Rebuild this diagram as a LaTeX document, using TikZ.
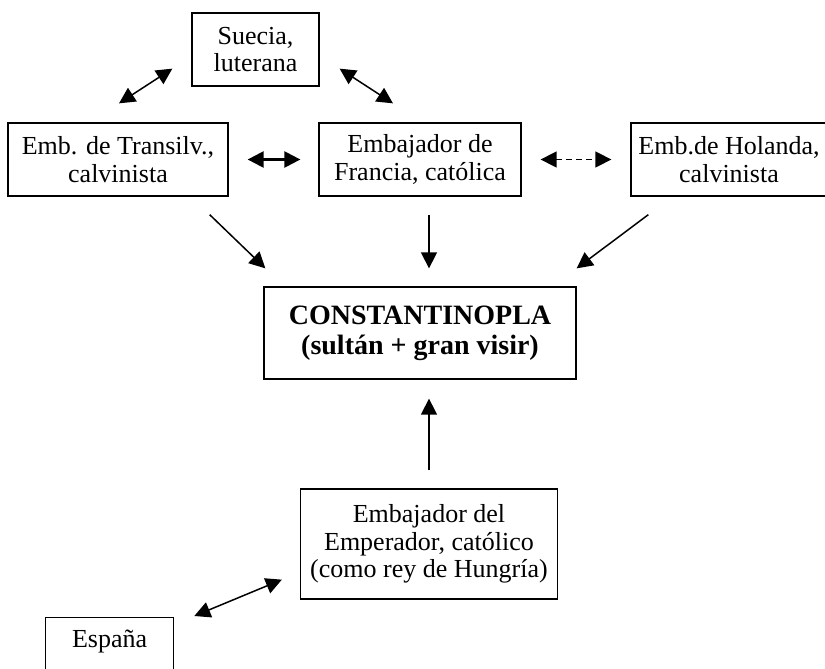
\documentclass[tikz,border=0pt]{standalone}
\usepackage{fontspec}
\setmainfont{Liberation Serif}
\usepackage{tikz}
\usetikzlibrary{arrows.meta}
\tikzset{
  cajon/.style={rectangle, draw=black, line width=1.3pt, inner sep=0pt,
                align=center, font=\fontsize{26}{27.5}\selectfont},
  cajonbf/.style={cajon, font=\fontsize{28}{30}\selectfont\bfseries},
  flecha/.style={-{Triangle[length=16pt,width=16pt]}, line width=1.5pt},
  flechados/.style={{Triangle[length=16pt,width=16pt]}-{Triangle[length=16pt,width=16pt]}, line width=1.5pt},
  flechagruesa/.style={flechados, line width=2.4pt},
  flechaguion/.style={flechados, dash pattern=on 6pt off 4pt},
}
\begin{document}
\begin{tikzpicture}[x=1pt,y=-1pt]
\useasboundingbox (0,0) rectangle (825,669);
% cajas
\node[cajon, minimum width=127pt, minimum height=73pt] (suecia) at (255.5,49.5) {Suecia,\\luterana};
\node[cajon, minimum width=220pt, minimum height=73pt] (transil) at (118,159.5) {Emb. de Transilv.,\\calvinista};
\node[cajon, minimum width=202pt, minimum height=73pt] (francia) at (420,159.5) {Embajador de\\Francia, católica};
\node[cajon, minimum width=196pt, minimum height=73pt] (holanda) at (729,159.5) {Emb.de Holanda,\\calvinista};
\node[cajonbf, minimum width=312pt, minimum height=92pt] (const) at (420,333) {CONSTANTINOPLA\\(sultán + gran visir)};
\node[cajon, minimum width=257pt, minimum height=110pt] (emper) at (429,544) {Embajador del\\Emperador, católico\\(como rey de Hungría)};
\node[cajon, anchor=north west, text width=128pt, text height=30pt, text depth=40pt] (espana) at (45,617) {España};
% flechas
\draw[flechados] ([xshift=1pt,yshift=19pt]transil.north) -- ([xshift=-19pt,yshift=18pt]suecia.south west);
\draw[flechados] ([xshift=20pt,yshift=18pt]suecia.south east) -- ([xshift=-27pt,yshift=19pt]francia.north);
\draw[flechagruesa] ([xshift=19pt]transil.east) -- ([xshift=-18pt]francia.west);
\draw[flechaguion] ([xshift=19pt]francia.east) -- ([xshift=-19pt]holanda.west);
\draw[flecha] ([xshift=-19pt,yshift=-18pt]transil.south east) -- ([xshift=2pt,yshift=18pt]const.north west);
\draw[flecha] ([xshift=9pt,yshift=-18pt]francia.south) -- ([xshift=9pt,yshift=18pt]const.north);
\draw[flecha] ([xshift=18pt,yshift=-18pt]holanda.south west) -- ([yshift=18pt]const.north east);
\draw[flecha] ([yshift=18pt]emper.north) -- ([xshift=9pt,yshift=-19pt]const.south);
\draw[flechados] ([xshift=20pt,yshift=1pt]espana.north east) -- ([xshift=-18pt,yshift=20pt]emper.south west);
\end{tikzpicture}
\end{document}
